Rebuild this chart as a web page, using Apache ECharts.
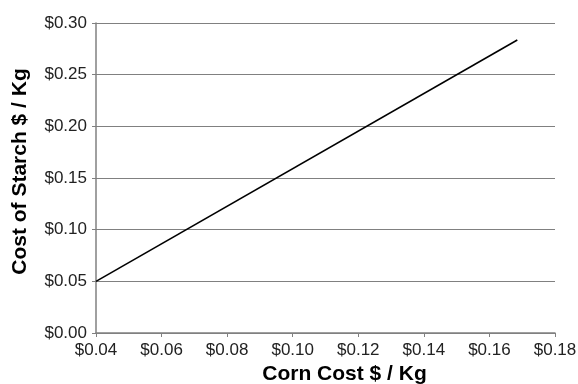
<!DOCTYPE html>
<html>
<head>
<meta charset="utf-8">
<script src="https://cdn.jsdelivr.net/npm/echarts@6/dist/echarts.min.js"></script>
<style>
  html, body { margin: 0; padding: 0; background: #fff; }
  #chart { width: 578px; height: 384px; }
</style>
</head>
<body>
<div id="chart"></div>
<script>
// corn cost ($/kg) vs starch cost ($/kg)
var cornCost = [0.04, 0.1685];
var starchCost = [0.05, 0.2835];
var xTicks = [0.04, 0.06, 0.08, 0.10, 0.12, 0.14, 0.16, 0.18];
var yTicks = [0, 0.05, 0.10, 0.15, 0.20, 0.25, 0.30];

var myChart = echarts.init(document.getElementById("chart"));
var fontFam = "Liberation Sans, Arial, sans-serif";

function money(v) {
    return "$" + v.toFixed(2);
}

var option = {
    animation: false,
    grid: {
        left: 96,
        right: 23,
        top: 23,
        bottom: 51,
        outerBoundsMode: 'none'
    },
    xAxis: {
        type: 'value',
        min: xTicks[0],
        max: xTicks[xTicks.length - 1],
        interval: 0.02,
        name: 'Corn Cost $ / Kg',
        nameLocation: 'middle',
        nameGap: 30,
        nameTextStyle: {
            fontFamily: fontFam,
            fontWeight: 'bold',
            fontSize: 21,
            color: '#000',
            padding: [0, 0, 0, 38]
        },
        axisLine: { show: true, lineStyle: { color: '#808080', width: 1.5 } },
        axisTick: { show: true, length: 4, lineStyle: { color: '#808080' } },
        splitLine: { show: false },
        axisLabel: {
            fontFamily: fontFam,
            fontSize: 17,
            color: '#222',
            margin: 9,
            formatter: money
        }
    },
    yAxis: {
        type: 'value',
        min: yTicks[0],
        max: yTicks[yTicks.length - 1],
        interval: 0.05,
        name: 'Cost of Starch $ / Kg',
        nameLocation: 'middle',
        nameGap: 65,
        nameTextStyle: {
            fontFamily: fontFam,
            fontWeight: 'bold',
            fontSize: 21,
            color: '#000',
            padding: [0, 0, 0, 13]
        },
        axisLine: { show: true, lineStyle: { color: '#808080', width: 1.5 } },
        axisTick: { show: true, length: 4, lineStyle: { color: '#808080' } },
        splitLine: { show: true, lineStyle: { color: '#808080', width: 1.2 } },
        axisLabel: {
            fontFamily: fontFam,
            fontSize: 17,
            color: '#222',
            margin: 9,
            formatter: money
        }
    },
    series: [{
        type: 'line',
        data: cornCost.map(function(x, i) { return [x, starchCost[i]]; }),
        symbol: 'none',
        lineStyle: { color: '#000', width: 1.6 }
    }]
};

myChart.setOption(option);
window.addEventListener("resize", function() {
    myChart.resize();
});
</script>
</body>
</html>
